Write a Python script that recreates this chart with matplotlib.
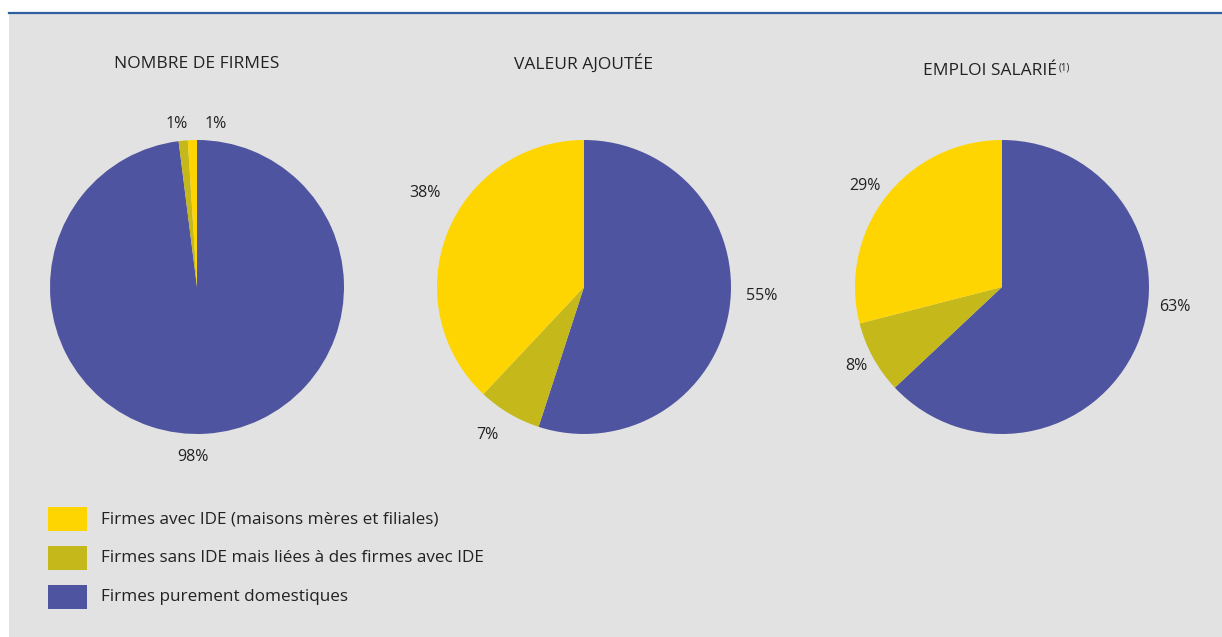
import numpy as np
import matplotlib
matplotlib.use("Agg")
import matplotlib.pyplot as plt
from matplotlib.patches import Rectangle

plt.rcParams['font.family'] = ['Open Sans', 'DejaVu Sans']

# ---- data ----
titles = ["NOMBRE DE FIRMES", "VALEUR AJOUTÉE", "EMPLOI SALARIÉ"]
categories = ["Firmes purement domestiques",
              "Firmes sans IDE mais liées à des firmes avec IDE",
              "Firmes avec IDE (maisons mères et filiales)"]
nombre_firmes = [98, 1, 1]
valeur_ajoutee = [55, 7, 38]
emploi_salarie = [63, 8, 29]
series = [nombre_firmes, valeur_ajoutee, emploi_salarie]
legend_order = [2, 1, 0]

colors = ["#4F54A0", "#C4B81A", "#FFD500"]
bg = "#E2E2E2"
W, H = 1222, 637

# label placement (in pie-radius units, relative to the pie centre)
label_pos = [
    [(-0.027, -1.156), (-0.136, 1.109), (0.129, 1.109)],
    [(1.211, -0.061), (-0.660, -1.007), (-1.082, 0.639)],
    [(1.177, -0.136), (-0.993, -0.537), (-0.932, 0.687)],
]

fig = plt.figure(figsize=(W / 100, H / 100), dpi=100, facecolor="white")

# gray panel and top rule
fig.patches.append(Rectangle((9 / W, 0), 1 - 9 / W, (H - 14) / H,
                             transform=fig.transFigure, facecolor=bg,
                             edgecolor="none", zorder=-5))
fig.add_artist(plt.Line2D([9 / W, 1], [(H - 13) / H, (H - 13) / H],
                          transform=fig.transFigure, color="#2E5F9E", lw=1.6))

centers_x = [197, 584, 1002]
cy = 287
R = 147
half = 1.45
title_y = [64, 64, 71]
title_x = [197, 584, 990]

for i, (vals, cx) in enumerate(zip(series, centers_x)):
    s = half * R
    ax = fig.add_axes([(cx - s) / W, (H - cy - s) / H, 2 * s / W, 2 * s / H])
    ax.patch.set_visible(False)
    wedges, _ = ax.pie(vals, colors=colors, startangle=90, counterclock=False,
                       radius=1, wedgeprops=dict(linewidth=0))
    ax.set_xlim(-half, half)
    ax.set_ylim(-half, half)
    ax.set_aspect("equal")
    ax.axis("off")
    for j, w in enumerate(wedges):
        lx, ly = label_pos[i][j]
        ax.text(lx, ly, f"{vals[j]}%", ha="center", va="center",
                fontsize=11.5, color="#222222", clip_on=False)
    t = fig.text(title_x[i] / W, 1 - title_y[i] / H, titles[i], ha="center",
                 va="center", fontsize=12.5, color="#222222")
    if i == 2:
        fig.add_artist(plt.Annotation("(1)", xy=(1, 1), xycoords=t,
                                      xytext=(1, 0), textcoords="offset points",
                                      ha="left", va="top", fontsize=7,
                                      color="#222222"))

# legend
for k, idx in enumerate(legend_order):
    y = 519 + 39 * k
    fig.patches.append(Rectangle((48 / W, 1 - (y + 12) / H), 39 / W, 24 / H,
                                 transform=fig.transFigure,
                                 facecolor=colors[idx], edgecolor="none"))
    fig.text(101 / W, 1 - y / H, categories[idx], ha="left", va="center",
             fontsize=12.3, color="#222222")

fig.savefig("out.png", dpi=100, facecolor="white")
